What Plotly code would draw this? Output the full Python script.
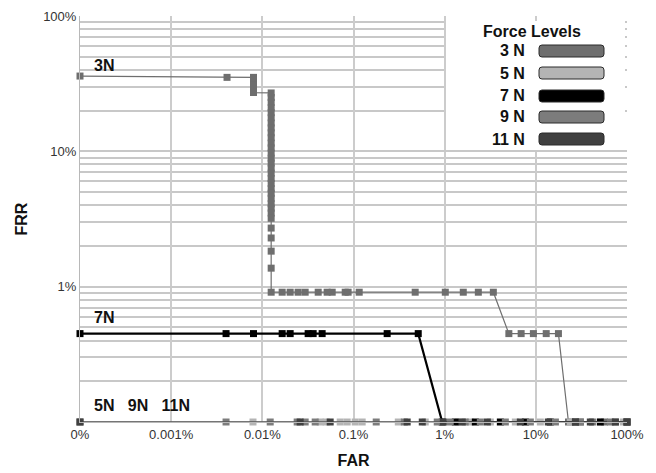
import plotly.graph_objects as go

# ---------------- data (FAR %, FRR %) ----------------
series_names = ["3N", "5N", "7N", "9N", "11N"]
legend_labels = ["3 N", "5 N", "7 N", "9 N", "11 N"]

far_3n = [0, 0.0041, 0.0080, 0.0080, 0.0080, 0.0080, 0.0080,
          0.0125, 0.0125, 0.0125, 0.0125, 0.0125, 0.0125, 0.0125, 0.0125,
          0.0125, 0.0125, 0.0125, 0.0125, 0.0125, 0.0125, 0.0125, 0.0125,
          0.0125, 0.0125, 0.0125, 0.0125, 0.0125, 0.0125, 0.0125, 0.0125,
          0.0125, 0.0125, 0.0125, 0.0125, 0.0125, 0.0125, 0.0125,
          0.0165, 0.0202, 0.0247, 0.0295, 0.0410, 0.0514, 0.0584, 0.0811,
          0.0873, 0.1155, 0.475, 1.016, 1.60, 2.34, 3.42,
          5.06, 6.9, 9.4, 13.0, 17.7,
          22.8, 30.8, 41.7, 56.5, 74.6, 100]
frr_3n = [36.0, 35.2, 35.2, 33.0, 31.0, 29.0, 27.2,
          27.0, 25.0, 23.0, 21.0, 19.3, 17.7, 16.2, 14.9,
          13.7, 12.6, 11.5, 10.6, 9.7, 8.9, 8.2, 7.5,
          6.9, 6.3, 5.8, 5.3, 4.9, 4.5, 4.1, 3.8,
          3.5, 3.2, 2.71, 2.29, 1.83, 1.37, 0.91,
          0.91, 0.91, 0.91, 0.91, 0.91, 0.91, 0.91, 0.91,
          0.91, 0.91, 0.91, 0.91, 0.91, 0.91, 0.91,
          0.45, 0.45, 0.45, 0.45, 0.45,
          0, 0, 0, 0, 0, 0]

far_5n = [0, 0.0079, 0.0431, 0.0501, 0.0715, 0.0853, 0.1044, 0.1245, 0.310,
          0.612, 1.41, 1.91, 3.17, 5.96, 11.2, 23.9, 51.0, 91.2]
frr_5n = [0] * len(far_5n)

far_7n = [0, 0.0040, 0.0080, 0.0165, 0.0202, 0.0318, 0.0361, 0.0453, 0.234,
          0.513, 0.94, 1.31, 2.17, 4.08, 7.68, 14.4, 27.2, 51.0, 100]
frr_7n = [0.45, 0.45, 0.45, 0.45, 0.45, 0.45, 0.45, 0.45, 0.45,
          0.45, 0, 0, 0, 0, 0, 0, 0, 0, 0]

far_9n = [0, 0.0040, 0.0122, 0.0241, 0.0295, 0.0380, 0.1775, 0.361, 0.829,
          1.151, 1.68, 2.46, 4.63, 8.71, 16.4, 30.8, 65.8, 100]
frr_9n = [0] * len(far_9n)

far_11n = [0, 0.0260, 0.0555, 0.388, 0.568, 0.966, 1.56, 2.94, 6.76,
           13.7, 27.2, 39.6, 74.6, 100]
frr_11n = [0] * len(far_11n)

x_tick_vals = [0.0001, 0.001, 0.01, 0.1, 1, 10, 100]
x_tick_text = ["0%", "0.001%", "0.01%", "0.1%", "1%", "10%", "100%"]
y_tick_vals = [1, 10, 100]
y_tick_text = ["1%", "10%", "100%"]

# zero values are drawn on the axis floor (as in the original chart)
X_FLOOR = 0.0001
Y_FLOOR = 0.1

colors = ["#6e6e6e", "#b4b4b4", "#000000", "#7c7c7c", "#404040"]
line_w = [1.2, 1.2, 2.2, 1.2, 1.2]
all_far = [far_3n, far_5n, far_7n, far_9n, far_11n]
all_frr = [frr_3n, frr_5n, frr_7n, frr_9n, frr_11n]

fig = go.Figure()
for name, fx, fy, c, w in zip(series_names, all_far, all_frr, colors, line_w):
    fig.add_trace(go.Scatter(
        x=[v if v > 0 else X_FLOOR for v in fx],
        y=[v if v > 0 else Y_FLOOR for v in fy],
        mode="lines+markers", name=name, showlegend=False,
        line=dict(color=c, width=w),
        marker=dict(symbol="square", size=7, color=c, line=dict(width=0)),
        cliponaxis=False,
    ))

# plot-area geometry in pixels (for paper-coordinate helpers)
L, R, T, B = 80, 627, 16, 422
W, H = 656, 473
def px(x):
    return (x - L) / (R - L)
def py(y):
    return (B - y) / (B - T)

shapes = []
annotations = []
# legend background
shapes.append(dict(type="rect", xref="paper", yref="paper",
                   x0=px(446), x1=px(625), y0=py(150), y1=py(21),
                   fillcolor="white", line=dict(width=0), layer="above"))
annotations.append(dict(text="<b>Force Levels</b>", xref="paper", yref="paper",
                        x=px(532), y=py(32), showarrow=False,
                        xanchor="center", yanchor="middle",
                        font=dict(size=16, color="#111", family="Liberation Sans")))
rows = [51, 73, 96, 117, 139]
for lab, c, r in zip(legend_labels, colors, rows):
    x0, x1, y0, y1, rr = 539, 604, r - 6, r + 6, 3
    path = (f"M {px(x0+rr)},{py(y0)} L {px(x1-rr)},{py(y0)} "
            f"Q {px(x1)},{py(y0)} {px(x1)},{py(y0+rr)} L {px(x1)},{py(y1-rr)} "
            f"Q {px(x1)},{py(y1)} {px(x1-rr)},{py(y1)} L {px(x0+rr)},{py(y1)} "
            f"Q {px(x0)},{py(y1)} {px(x0)},{py(y1-rr)} L {px(x0)},{py(y0+rr)} "
            f"Q {px(x0)},{py(y0)} {px(x0+rr)},{py(y0)} Z")
    shapes.append(dict(type="path", xref="paper", yref="paper", path=path,
                       fillcolor=c, line=dict(color="#2a2a2a", width=1), layer="above"))
    annotations.append(dict(text=f"<b>{lab}</b>", xref="paper", yref="paper",
                            x=px(527), y=py(r), xanchor="right", yanchor="middle",
                            showarrow=False,
                            font=dict(size=16, color="#111", family="Liberation Sans")))

# series labels
for txt, xx, yy in [("3N", 92, 66), ("7N", 92, 317), ("5N&nbsp;&nbsp;&nbsp;9N&nbsp;&nbsp;&nbsp;11N", 92, 405)]:
    annotations.append(dict(text=f"<b>{txt}</b>", xref="paper", yref="paper",
                            x=px(xx), y=py(yy), xanchor="left", yanchor="middle",
                            showarrow=False,
                            font=dict(size=16, color="#111", family="Liberation Sans")))

fig.update_layout(
    width=W, height=H,
    margin=dict(l=L, r=W - R, t=T, b=H - B, autoexpand=False),
    paper_bgcolor="white", plot_bgcolor="white",
    shapes=shapes, annotations=annotations,
    font=dict(family="Liberation Sans", color="#333"),
)
fig.update_xaxes(
    type="log", range=[-4, 2], automargin=False,
    tickvals=x_tick_vals, ticktext=x_tick_text,
    showgrid=True, gridcolor="#cccccc", gridwidth=2,
    showline=True, linecolor="#b8b8b8", linewidth=1,
    ticks="", tickfont=dict(size=13, color="#333"),
    title=dict(text="<b>FAR</b>", font=dict(size=16, color="#111"), standoff=14),
    zeroline=False,
)
fig.update_yaxes(
    type="log", range=[-1, 2], automargin=False,
    tickvals=y_tick_vals, ticktext=y_tick_text,
    showgrid=True, gridcolor="#c8c8c8", gridwidth=1.5,
    minor=dict(dtick="D1", showgrid=True, gridcolor="#c8c8c8", gridwidth=1.5, ticks=""),
    showline=True, linecolor="#b8b8b8", linewidth=1,
    ticks="", tickfont=dict(size=13, color="#333"),
    title=dict(text="<b>FRR</b>", font=dict(size=16, color="#111"), standoff=11),
    zeroline=False,
)

fig.write_html("out.html", config={"displayModeBar": False},
               post_script="document.body.style.margin='0px';document.body.style.padding='0px';")
